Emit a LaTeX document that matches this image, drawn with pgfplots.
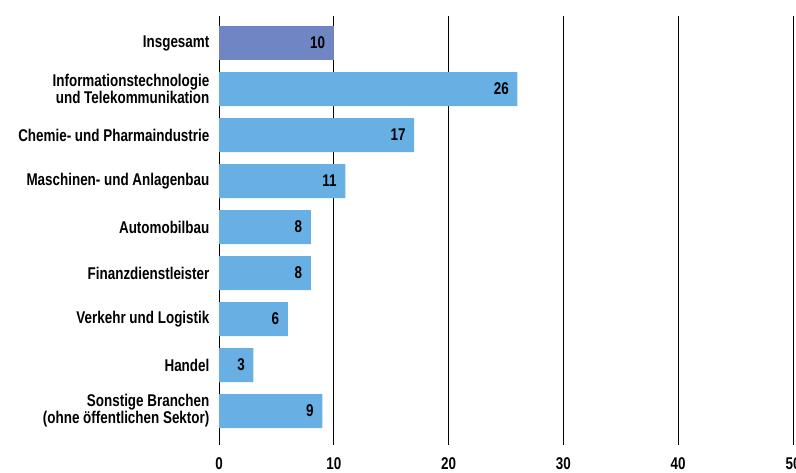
\documentclass[border=0pt]{standalone}
\usepackage{fontspec}
\setmainfont{Liberation Sans}[FakeStretch=0.79]
\usepackage{pgfplots}
\pgfplotsset{compat=1.18}
\definecolor{barA}{HTML}{7086C4}
\definecolor{barB}{HTML}{68B0E4}
\begin{document}
\begin{tikzpicture}
\begin{axis}[
  at={(109.5pt,13.5pt)}, anchor=south west,
  scale only axis, width=287pt, height=214.5pt,
  xmin=0, xmax=50, ymin=-0.587, ymax=8.739, y dir=reverse,
  xbar, bar width=17pt, bar shift=0pt,
  xtick={0,10,...,50},
  ytick={0,...,8},
  yticklabels={Insgesamt,{Informationstechnologie\\und Telekommunikation},Chemie- und Pharmaindustrie,Maschinen- und Anlagenbau,Automobilbau,Finanzdienstleister,Verkehr und Logistik,Handel,{Sonstige Branchen\\(ohne öffentlichen Sektor)}},
  yticklabel style={align=right, font=\fontsize{8.5}{8.5}\selectfont\bfseries, xshift=-1.3pt},
  xticklabel style={font=\fontsize{8.5}{8.5}\selectfont\bfseries, yshift=-3pt},
  /pgf/number format/assume math mode=true,
  major tick length=0pt,
  axis line style={draw=none},
  xmajorgrids, grid style={black, line width=0.5pt},
  nodes near coords,
  nodes near coords style={anchor=east, xshift=-0.8pt, font=\fontsize{8.5}{8.5}\selectfont\bfseries, black},
]
\addplot[fill=barA, draw=none] coordinates {(10,0)};
\addplot[fill=barB, draw=none] coordinates {(26,1) (17,2) (11,3) (8,4) (8,5) (6,6) (3,7) (9,8)};
\end{axis}
\pgfresetboundingbox
\path (0,0) rectangle (398pt,236pt);
\end{tikzpicture}
\end{document}
